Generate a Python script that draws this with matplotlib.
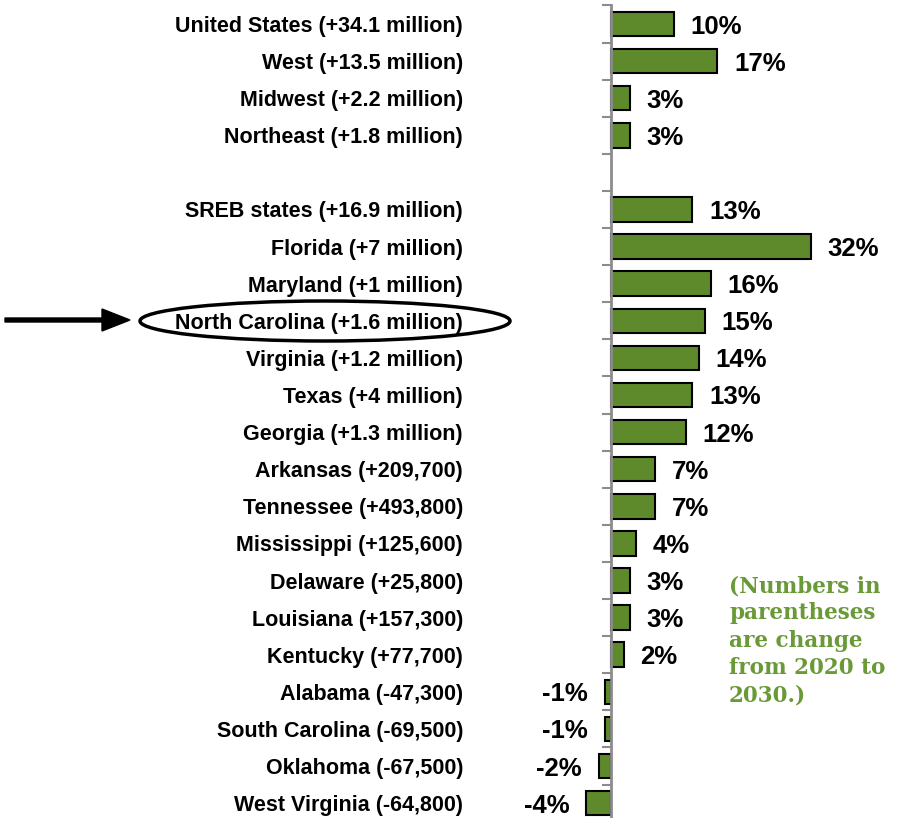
import numpy as np
import matplotlib.pyplot as plt
from matplotlib.patches import Ellipse, FancyArrow

# data
labels = ["United States (+34.1 million)", "West (+13.5 million)", "Midwest (+2.2 million)",
          "Northeast (+1.8 million)", "",
          "SREB states (+16.9 million)", "Florida (+7 million)", "Maryland (+1 million)",
          "North Carolina (+1.6 million)", "Virginia (+1.2 million)", "Texas (+4 million)",
          "Georgia (+1.3 million)", "Arkansas (+209,700)", "Tennessee (+493,800)",
          "Mississippi (+125,600)", "Delaware (+25,800)", "Louisiana (+157,300)",
          "Kentucky (+77,700)", "Alabama (-47,300)", "South Carolina (-69,500)",
          "Oklahoma (-67,500)", "West Virginia (-64,800)"]
values = [10, 17, 3, 3, None,
          13, 32, 16, 15, 14, 13, 12, 7, 7, 4, 3, 3, 2, -1, -1, -2, -4]
note = "(Numbers in\nparentheses\nare change\nfrom 2020 to\n2030.)"

W, H = 897, 818
green = '#5e8a2c'

fig = plt.figure(figsize=(W/100, H/100), dpi=100)
ax = fig.add_axes([470/W, 0, 1 - 470/W, 1])

px = 6.25  # pixels per percent
ax.set_xlim((470-611)/px, (897-611)/px)
row = 37.1
ax.set_ylim((818-24)/row, -24/row)

n = len(labels)
y = np.arange(n)
for i, v in enumerate(values):
    if v is None:
        continue
    ax.barh(i, v, height=0.66, color=green, edgecolor='black', linewidth=1.5, zorder=2)
    off = 12 if v >= 0 else -12
    ax.annotate(f"{v}%", (v, i), xytext=(off, 0), textcoords='offset points',
                ha='left' if v >= 0 else 'right', va='center_baseline',
                fontsize=18.5, fontweight='bold', family=['Liberation Sans'])

# axis line and boundary ticks
ax.plot([0, 0], [-0.5, n], color='#8c8c8c', lw=2, zorder=3, clip_on=False)
tick_len = 8/px
for b in np.arange(n) - 0.5:
    ax.plot([-tick_len, 0], [b, b], color='#8c8c8c', lw=1.5, zorder=3)

for s in ax.spines.values():
    s.set_visible(False)
ax.set_xticks([])
ax.set_yticks(y)
ax.set_yticklabels(labels, fontsize=15.5, fontweight='bold',
                   family=['Liberation Sans Narrow', 'Liberation Sans'])
ax.tick_params(axis='y', length=0, pad=5)

# note
fig.text(729/W, 1 - 575/H, note, color='#6a9a38', fontsize=15.5, fontweight='bold',
         family=['DejaVu Serif'], ha='left', va='top', linespacing=1.32)

# highlight North Carolina
fig.add_artist(Ellipse((325/W, 1 - 321/H), 370/W, 40/H, transform=fig.transFigure,
                       fill=False, edgecolor='black', lw=2.5))
fig.add_artist(FancyArrow(5/W, 1 - 320/H, 125/W, 0,
                          width=4/H, head_width=22/H, head_length=28/W,
                          length_includes_head=True, color='black',
                          transform=fig.transFigure))

fig.savefig('out.png', dpi=100)
